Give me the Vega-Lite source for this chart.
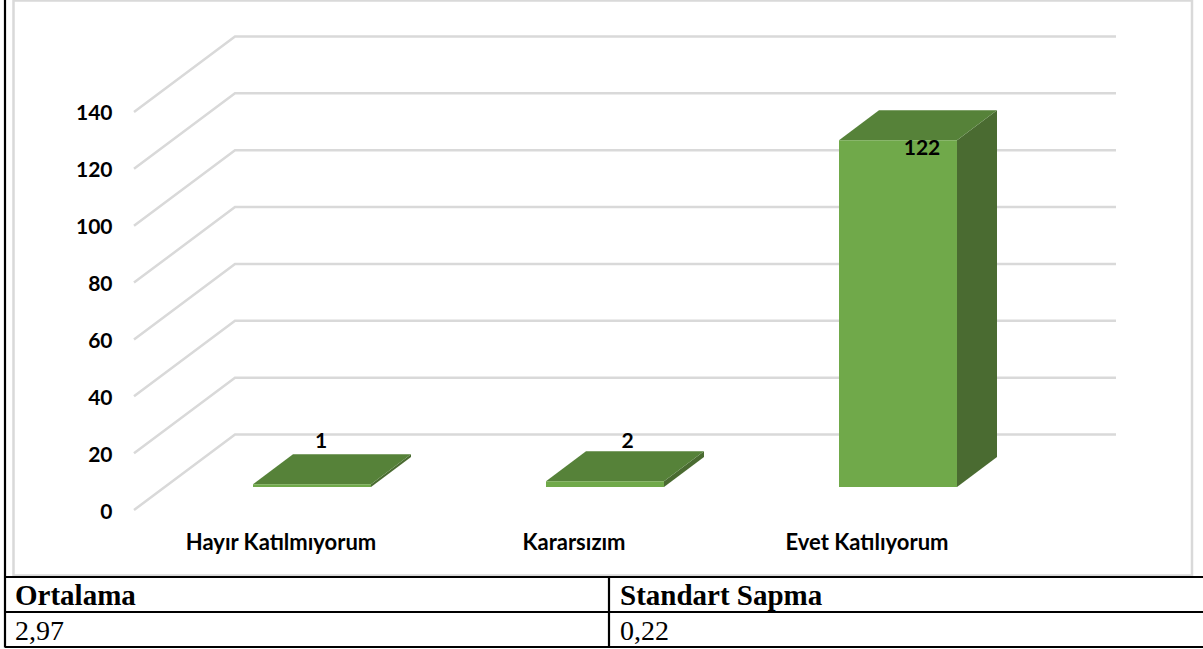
{
  "$schema": "https://vega.github.io/schema/vega-lite/v6.json",
  "width": 1203,
  "height": 649,
  "padding": 0,
  "autosize": {"type": "none"},
  "background": "white",
  "config": {"view": {"stroke": null}},
  "datasets": {
    "bars": [
      {"category": "Hayır Katılmıyorum", "value": 1},
      {"category": "Kararsızım", "value": 2},
      {"category": "Evet Katılıyorum", "value": 122}
    ],
    "ticks": [
      {"value": 0}, {"value": 20}, {"value": 40}, {"value": 60},
      {"value": 80}, {"value": 100}, {"value": 120}, {"value": 140}
    ],
    "table": [
      {"column": "Sol", "row": "Başlık", "text": "Ortalama"},
      {"column": "Sağ", "row": "Başlık", "text": "Standart Sapma"},
      {"column": "Sol", "row": "Değer", "text": "2,97"},
      {"column": "Sağ", "row": "Değer", "text": "0,22"}
    ]
  },
  "data": {"name": "bars"},
  "layer": [
    {
      "encoding": {
        "x": {
          "field": "category",
          "type": "nominal",
          "scale": {
            "domain": ["Hayır Katılmıyorum", "Kararsızım", "Evet Katılıyorum"],
            "range": [165.5, 1044.5],
            "paddingInner": 0,
            "paddingOuter": 0
          },
          "axis": {
            "title": null,
            "orient": "bottom",
            "offset": -107,
            "labelOffset": -31,
            "labelAngle": 0,
            "labelBaseline": "middle",
            "labelPadding": 0,
            "labelLimit": 400,
            "ticks": false,
            "domain": false,
            "grid": false,
            "labelFont": "Lato",
            "labelFontSize": 22,
            "labelFontWeight": "bold",
            "labelColor": "#000000"
          }
        },
        "y": {
          "field": "value",
          "type": "quantitative",
          "scale": {"domain": [-48.89, 179.39], "nice": false, "zero": false},
          "axis": {
            "title": null,
            "orient": "left",
            "offset": -112,
            "values": [0, 20, 40, 60, 80, 100, 120, 140],
            "labelPadding": 0,
            "labelOffset": 2,
            "ticks": false,
            "domain": false,
            "grid": false,
            "labelFont": "Lato",
            "labelFontSize": 21,
            "labelFontWeight": "bold",
            "labelColor": "#000000"
          }
        }
      },
      "layer": [
        {
          "data": {"name": "ticks"},
          "mark": {
            "type": "point",
            "filled": false,
            "opacity": 1,
            "stroke": "#d9d9d9",
            "strokeWidth": 2.5,
            "size": 4,
            "shape": "M-178 0 L-77 -75.5 L804 -75.5"
          },
          "encoding": {"x": {"datum": "Hayır Katılmıyorum"}}
        },
        {
          "mark": {"type": "point", "filled": true, "opacity": 1, "fill": "#4a6b31", "strokeWidth": 0, "size": 4, "yOffset": -23},
          "encoding": {
            "shape": {
              "field": "category",
              "type": "nominal",
              "legend": null,
              "scale": {
                "domain": ["Hayır Katılmıyorum", "Kararsızım", "Evet Katılıyorum"],
                "range": [
                  "M59 0 L99 -30 L99 -27.2 L59 2.8 Z",
                  "M59 0 L99 -30 L99 -24.3 L59 5.7 Z",
                  "M59 0 L99 -30 L99 316.8 L59 346.8 Z"
                ]
              }
            }
          }
        },
        {
          "mark": {
            "type": "point",
            "filled": true,
            "opacity": 1,
            "fill": "#568239",
            "strokeWidth": 0,
            "size": 4,
            "yOffset": -23,
            "shape": "M-59 0 L59 0 L99 -30 L-19 -30 Z"
          }
        },
        {
          "mark": {"type": "bar", "size": 118, "color": "#70a94a", "yOffset": -23, "y2Offset": -23},
          "encoding": {"y2": {"datum": 0}}
        },
        {
          "transform": [{"filter": "datum.value == 1"}],
          "mark": {"type": "text", "font": "Lato", "fontSize": 21, "fontWeight": "bold", "color": "#000000", "dx": 9, "dy": -65, "baseline": "middle"},
          "encoding": {"text": {"field": "value", "type": "quantitative"}}
        },
        {
          "transform": [{"filter": "datum.value == 2"}],
          "mark": {"type": "text", "font": "Lato", "fontSize": 21, "fontWeight": "bold", "color": "#000000", "dx": 22.5, "dy": -62, "baseline": "middle"},
          "encoding": {"text": {"field": "value", "type": "quantitative"}}
        },
        {
          "transform": [{"filter": "datum.value == 122"}],
          "mark": {"type": "text", "font": "Lato", "fontSize": 21, "fontWeight": "bold", "color": "#000000", "dx": 24, "dy": -14, "baseline": "middle"},
          "encoding": {"text": {"field": "value", "type": "quantitative"}}
        }
      ]
    },
    {
      "data": {"name": "table"},
      "encoding": {
        "x": {
          "field": "column",
          "type": "nominal",
          "scale": {"type": "point", "domain": ["Sol", "Sağ"], "range": [15, 620], "padding": 0},
          "axis": null
        },
        "y": {
          "field": "row",
          "type": "nominal",
          "scale": {"domain": ["Başlık", "Değer"], "range": [577, 647], "paddingInner": 0, "paddingOuter": 0},
          "axis": null
        }
      },
      "layer": [
        {
          "transform": [{"filter": "datum.text == 'Ortalama'"}],
          "mark": {
            "type": "point",
            "filled": false,
            "opacity": 1,
            "stroke": "#d9d9d9",
            "strokeWidth": 2.5,
            "size": 4,
            "shape": "M-1.5 -594 L1177 -594 L1177 -19 L-1.5 -19 Z"
          }
        },
        {
          "transform": [{"filter": "datum.text == 'Ortalama'"}],
          "mark": {
            "type": "point",
            "filled": false,
            "opacity": 1,
            "stroke": "#000000",
            "strokeWidth": 2.2,
            "size": 4,
            "shape": "M-10 -595 L-10 53 M-10 -17.5 L1188 -17.5 M-10 17.5 L1188 17.5 M-10 52.5 L1188 52.5 M594 -17.5 L594 52.5"
          }
        },
        {
          "transform": [{"filter": "datum.row == 'Başlık'"}],
          "mark": {"type": "text", "font": "Liberation Serif", "fontSize": 29, "fontWeight": "bold", "color": "#000000", "align": "left", "baseline": "alphabetic", "dy": 10.5},
          "encoding": {"text": {"field": "text", "type": "nominal"}}
        },
        {
          "transform": [{"filter": "datum.row == 'Değer'"}],
          "mark": {"type": "text", "font": "Liberation Serif", "fontSize": 28, "color": "#000000", "align": "left", "baseline": "alphabetic", "dy": 10.5},
          "encoding": {"text": {"field": "text", "type": "nominal"}}
        }
      ]
    }
  ],
  "resolve": {"scale": {"x": "independent", "y": "independent"}}
}
